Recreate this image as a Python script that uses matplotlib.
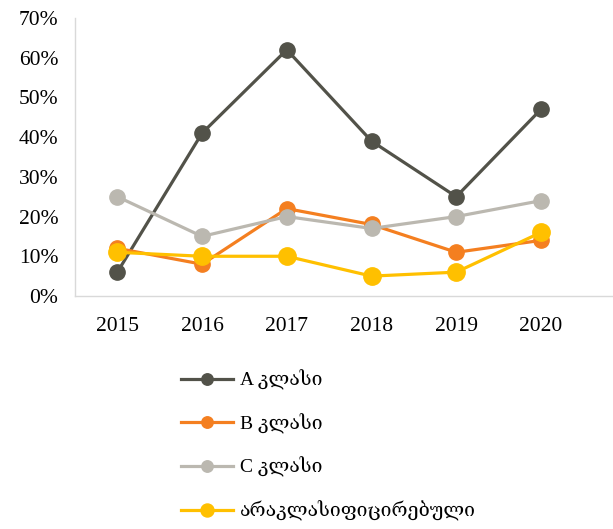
import matplotlib
matplotlib.use('Agg')
import matplotlib.pyplot as plt
from matplotlib.ticker import FuncFormatter

years = ['2015', '2016', '2017', '2018', '2019', '2020']
class_a = [6, 41, 62, 39, 25, 47]
class_b = [12, 8, 22, 18, 11, 14]
class_c = [25, 15, 20, 17, 20, 24]
unclassified = [11, 10, 10, 5, 6, 16]
labels = ['A კლასი', 'B კლასი', 'C კლასი', 'არაკლასიფიცირებული']

plt.rcParams['font.family'] = ['Liberation Serif', 'DejaVu Serif']

fig = plt.figure(figsize=(6.13, 5.29), dpi=100)
ax = fig.add_axes([0.1223, 0.4405, 0.8777, 0.5255])

x = range(len(years))
series = [
    (class_a, '#525249', 11),
    (class_b, '#F47F20', 11),
    (class_c, '#BBB8B0', 11),
    (unclassified, '#FFC000', 12.5),
]
for (vals, col, ms), lab in zip(series, labels):
    ax.plot(x, vals, color=col, linewidth=2.3, marker='o', markersize=ms, label=lab)

ax.set_xlim(-0.5, 5.85)
ax.set_ylim(0, 70)
ax.set_yticks(range(0, 71, 10))
ax.yaxis.set_major_formatter(FuncFormatter(lambda v, p: f'{int(v)}%'))
ax.set_xticks(list(x))
ax.set_xticklabels(years)
ax.tick_params(length=0, labelsize=15.5, colors='black')
ax.tick_params(axis='x', pad=15)
ax.tick_params(axis='y', pad=12)
for s in ['top', 'right']:
    ax.spines[s].set_visible(False)
for s in ['left', 'bottom']:
    ax.spines[s].set_color('#D9D9D9')
    ax.spines[s].set_linewidth(1)

fig.legend(loc='upper left', bbox_to_anchor=(0.295, 0.301), frameon=False,
           fontsize=14, handlelength=2.7, handletextpad=0.36, labelspacing=1.2,
           markerscale=0.75, borderpad=0, borderaxespad=0)

fig.savefig('out.png', dpi=100)
